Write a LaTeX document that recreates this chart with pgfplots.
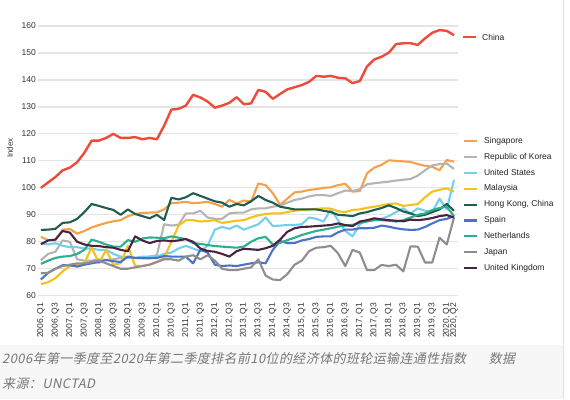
\documentclass[border=0pt]{standalone}
\usepackage{fontspec}
\setmainfont{Liberation Sans}
\newfontfamily\cjk[FakeSlant=0.2,LetterSpace=3]{Noto Sans CJK SC}
\usepackage{pgfplots}
\usepackage{pgfplotstable}
\pgfplotsset{compat=1.18}
\definecolor{chinac}{HTML}{EE4B3B}
\definecolor{sgc}{HTML}{F5A04A}
\definecolor{krc}{HTML}{B4B4B4}
\definecolor{usc}{HTML}{73CFF0}
\definecolor{myc}{HTML}{F5C21B}
\definecolor{hkc}{HTML}{1E5E50}
\definecolor{esc}{HTML}{4A72C8}
\definecolor{nlc}{HTML}{2DAE8E}
\definecolor{jpc}{HTML}{8E8E8E}
\definecolor{ukc}{HTML}{4A2340}
\definecolor{gridc}{HTML}{E4E4E4}
\definecolor{tickc}{HTML}{333333}
\definecolor{legc}{HTML}{222222}
\definecolor{capbg}{HTML}{F7F7F7}
\definecolor{capc}{HTML}{777777}
\definecolor{edgec}{HTML}{E0E0E0}

\pgfplotstableread{
i cn sg kr us my hk es nl jp uk
0 100 81.8 73.2 79.5 64.3 84.4 66 71.8 68.3 79.1
1 102 80.6 75.5 79 65 84.5 68.5 73 68.5 80.5
2 104 80.6 76.3 79.5 66.5 84.8 70 74 70 80.8
3 106.5 84.5 80.5 78.5 69 87 71.3 74.5 71 84
4 107.5 84.7 80 78 71 87.2 71.3 74.7 71.5 83.4
5 109.5 83 73.5 78 71.5 88.5 70.8 75.5 72 80
6 113 84 73 77.5 72 91 71.5 77 72 79
7 117.5 85.3 73 77.5 78 94 72 80.8 72.5 78.5
8 117.5 86.2 73.5 77 72 93.3 72.5 80 73 78.4
9 118.5 87 73.3 77 77 92.5 73.2 79 72 78
10 120 87.6 73.5 75.5 71.5 91.8 72.8 78.2 71 77.8
11 118.5 88 74 74.5 72 90 72.5 78.2 70 77
12 118.5 89.5 74.5 74 78.5 92 74.5 80.6 70 76.5
13 118.8 90.3 74 74 71 90.3 74 80 70.5 82
14 118 90.7 74 74.5 71 89.5 73.9 81.2 71 80.5
15 118.5 90.8 74.5 74.5 71.5 88.7 73.9 81.6 71.5 79.5
16 118 90.9 75 74.5 72.5 90 74 81.5 72.5 80.3
17 123 92 86.5 75.5 74 88.1 74.7 81.3 73.5 80.5
18 129 94.3 86 76 80 96.3 74.5 82 73.5 80.2
19 129.3 94.5 86.3 77.5 86 95.7 74.5 81.5 73 80.5
20 130.5 94.8 90.5 78.5 88 96.5 74.5 81 74.5 81
21 134.5 94.3 90.5 77.5 88 98 72 79.5 75 80
22 133.5 94.5 91.5 76.5 87.5 97 77 79.2 73.5 77.5
23 132 94.8 89 78.5 87.7 96 76 78.8 75 76.6
24 129.7 94 88.5 84.5 88 95 71.5 78.4 73 76.3
25 130.5 93 88.5 85.5 87 94.5 71 78.2 70 75.5
26 131.5 95.5 90.5 84.8 87.4 93 71.2 78 69.5 74.5
27 133.6 94.2 90.8 86 87.8 94 71 77.8 69.5 76.5
28 131 95.3 90.8 84.5 88 93.5 71.5 78.2 70 77.4
29 131.3 94.9 92 85.5 89 95 72 80 70.5 77.2
30 136.3 101.6 92.4 86.5 89.8 97 72.4 81.3 73.5 77
31 135.6 101 92.4 89 90.3 95.5 72 81.8 67.5 77.6
32 133 98 93 85.8 90.5 94.5 77 79 66 78.5
33 134.8 93.7 93.4 86 90.5 93 80.3 79.6 65.8 80.8
34 136.5 96 94.5 86.2 91 92.5 79.5 80.6 68 83.7
35 137.3 98.3 95.5 86.2 91.5 92 79.5 81.5 71.5 85
36 138.1 98.6 96 86.5 91.8 92 80.5 82.5 73 85.5
37 139.3 99.2 96.8 89 92 92 81 83.3 76.5 85.6
38 141.5 99.5 97.3 88.5 92.2 92 81.8 84 77.8 85.8
39 141.2 100 97.3 87.5 92.4 91.5 82 84.5 78 86
40 141.5 100.2 97 92 92.3 91 82 85 78.5 86.2
41 140.8 101 98 88 91.3 90 83.5 85.6 75.7 86.8
42 140.6 101.5 99 84 91 89.8 84.5 86 71 86.2
43 138.8 98.6 98.8 82 91.8 89.5 84.5 86.3 77 85.8
44 139.6 98.8 99.5 86.5 92 90.5 85 87 76 87.5
45 145 105.4 101.3 88 92.6 91 85 87.5 69.5 88
46 147.6 107.5 101.7 88 93 91.8 85.2 88 69.5 88.7
47 148.6 108.5 102 88.5 93.5 92.5 86 88 71.4 88.3
48 150.1 110.2 102.3 89.5 94 93.5 85.6 87.8 71 88
49 153.3 110 102.7 91 94.2 92.5 85 87.5 71.5 87.8
50 153.6 109.8 103 92.4 93.3 91.2 84.6 88 69 87.6
51 153.6 109.6 103.3 90.5 93.6 90.5 84.4 89 78.3 88.2
52 153 108.8 104.5 92.4 94 89.5 84.5 90 78.2 88
53 155.4 108.2 106.5 91.5 96.5 90 85.5 90.5 72.3 88.3
54 157.5 107.8 108.3 91 98.6 91 86.8 91.8 72.3 88.8
55 158.5 106.5 108.8 96 99.3 92 88 92.5 81.5 89.5
56 158.2 110.3 109 92 99.8 94 88.5 93 79 89.9
57 156.6 109.7 107 103 98.6 91.5 89.5 89.5 89 89
}\lsci

\begin{document}
\begin{tikzpicture}[x=1pt,y=1pt]
\fill[white] (0,0) rectangle (570,-399);
\fill[capbg] (0,-345) rectangle (563,-399);
\draw[edgec, line width=0.8pt] (563,0) -- (563,-399);
\begin{axis}[
  at={(38pt,-295.7pt)}, anchor=south west,
  scale only axis, width=420pt, height=269.7pt,
  xmin=-0.4, xmax=57.55, ymin=60, ymax=160,
  ytick={60,70,80,90,100,110,120,130,140,150,160},
  xtick={0,2,4,6,8,10,12,14,16,18,20,22,24,26,28,30,32,34,36,38,40,42,44,46,48,50,52,54,56,57},
  xticklabels={{2006, Q1},{2006, Q3},{2007, Q1},{2007, Q3},{2008, Q1},{2008, Q3},{2009, Q1},{2009, Q3},{2010, Q1},{2010, Q3},{2011, Q1},{2011, Q3},{2012, Q1},{2012, Q3},{2013, Q1},{2013, Q3},{2014, Q1},{2014, Q3},{2015, Q1},{2015, Q3},{2016, Q1},{2016, Q3},{2017, Q1},{2017, Q3},{2018, Q1},{2018, Q3},{2019, Q1},{2019, Q3},{2020, Q1},{2020, Q2}},
  axis line style={draw=none},
  major tick length=0pt,
  ymajorgrids, grid style={draw=gridc, line width=1.2pt},
  tick label style={font=\fontsize{8.5}{10}\selectfont, text=tickc},
  /pgf/number format/assume math mode=true,
  xticklabel style={rotate=90, anchor=east, inner sep=0pt},
  xticklabel shift=7pt,
  yticklabel style={anchor=east, inner sep=0pt},
  yticklabel shift=2pt,
  ylabel={Index},
  ylabel style={at={(axis description cs:-0.0667,0.548)}, anchor=center, font=\fontsize{8}{9}\selectfont, text=tickc, inner sep=0pt},
  clip=false,
  every axis plot/.append style={line width=2.1pt, line join=round},
  legend style={at={(axis description cs:1.0119,0.5875)}, anchor=north west, draw=none, fill=none, inner sep=0pt, outer sep=0pt, row sep=8.4pt, font=\fontsize{8.5}{10}\selectfont, text=legc, nodes={inner sep=0pt, text height=6pt, text depth=1.5pt}},
  legend cell align=left,
  legend image code/.code={\draw[#1] (0pt,0pt) -- (13.3pt,0pt); \path (19pt,0pt);},
]
\addplot[chinac, line width=2.4pt, forget plot] table[x=i, y=cn] {\lsci};
\addplot[sgc] table[x=i, y=sg] {\lsci}; \addlegendentry{Singapore}
\addplot[krc] table[x=i, y=kr] {\lsci}; \addlegendentry{Republic of Korea}
\addplot[usc] table[x=i, y=us] {\lsci}; \addlegendentry{United States}
\addplot[myc] table[x=i, y=my] {\lsci}; \addlegendentry{Malaysia}
\addplot[hkc] table[x=i, y=hk] {\lsci}; \addlegendentry{Hong Kong, China}
\addplot[esc] table[x=i, y=es] {\lsci}; \addlegendentry{Spain}
\addplot[nlc] table[x=i, y=nl] {\lsci}; \addlegendentry{Netherlands}
\addplot[jpc] table[x=i, y=jp] {\lsci}; \addlegendentry{Japan}
\addplot[ukc] table[x=i, y=uk] {\lsci}; \addlegendentry{United Kingdom}
\draw[chinac, line width=2.1pt] (axis description cs:1.0119,0.9592) -- (axis description cs:1.0436,0.9592);
\node[anchor=west, inner sep=0pt, font=\fontsize{8.5}{10}\selectfont, text=legc] at (axis description cs:1.0571,0.9592) {China};
\end{axis}
\node[anchor=west, inner sep=0pt, text=capc, font=\cjk\fontsize{13}{15}\selectfont] at (2pt,-359pt) {\makebox[513pt][l]{2006年第一季度至2020年第二季度排名前10位的经济体的班轮运输连通性指数\hfill 数据}};
\node[anchor=west, inner sep=0pt, text=capc, font=\cjk\fontsize{13}{15}\selectfont] at (2pt,-384pt) {来源：UNCTAD};
\pgfresetboundingbox
\path[use as bounding box] (0,0) rectangle (570,-399);
\end{tikzpicture}
\end{document}
